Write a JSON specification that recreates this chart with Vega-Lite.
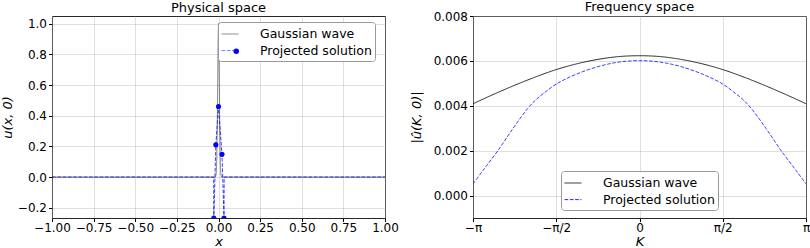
{
  "$schema": "https://vega.github.io/schema/vega-lite/v6.json",
  "padding": {"top": 0, "left": 0, "right": 0, "bottom": 0},
  "background": "white",
  "spacing": 10,
  "config": {
    "font": "DejaVu Sans",
    "view": {"stroke": "#262626", "strokeWidth": 1},
    "axis": {
      "labelFontSize": 12, "labelColor": "#000", "titleFontSize": 13, "titleFontWeight": "normal",
      "titleColor": "#000", "titleFontStyle": "italic", "tickColor": "#000", "tickSize": 3.5,
      "labelPadding": 2, "domain": false, "grid": true, "gridColor": "#b0b0b0", "gridOpacity": 0.5,
      "gridWidth": 0.8, "labelFlush": false, "labelOverlap": false
    },
    "axisX": {"labelPadding": 0.5, "titlePadding": 2.5},
    "title": {"fontSize": 13, "fontWeight": "normal", "baseline": "bottom", "frame": "group", "color": "#000"},
    "legend": {
      "labelFontSize": 12.5, "labelColor": "#000", "symbolSize": 289, "labelOffset": 21,
      "rowPadding": 0.6, "padding": 3, "fillColor": "white", "strokeColor": "#999999",
      "cornerRadius": 3, "symbolStrokeWidth": 1, "title": null
    }
  },
  "datasets": {
    "phys_gauss": [
      {"x": -1, "y": 0, "series": "Gaussian wave"},
      {"x": -0.018, "y": 0, "series": "Gaussian wave"},
      {"x": -0.014, "y": 0.02, "series": "Gaussian wave"},
      {"x": -0.011, "y": 0.09, "series": "Gaussian wave"},
      {"x": -0.008, "y": 0.28, "series": "Gaussian wave"},
      {"x": -0.005, "y": 0.6, "series": "Gaussian wave"},
      {"x": -0.0025, "y": 0.88, "series": "Gaussian wave"},
      {"x": 0, "y": 1, "series": "Gaussian wave"},
      {"x": 0.0025, "y": 0.88, "series": "Gaussian wave"},
      {"x": 0.005, "y": 0.6, "series": "Gaussian wave"},
      {"x": 0.008, "y": 0.28, "series": "Gaussian wave"},
      {"x": 0.011, "y": 0.09, "series": "Gaussian wave"},
      {"x": 0.014, "y": 0.02, "series": "Gaussian wave"},
      {"x": 0.018, "y": 0, "series": "Gaussian wave"},
      {"x": 1, "y": 0, "series": "Gaussian wave"}
    ],
    "phys_proj": [
      {"x": -1, "y": 0, "series": "Projected solution"},
      {"x": -0.029, "y": 0, "series": "Projected solution"},
      {"x": -0.028, "y": -0.267, "series": "Projected solution"},
      {"x": -0.016, "y": 0.21, "series": "Projected solution"},
      {"x": 0.0, "y": 0.46, "series": "Projected solution"},
      {"x": 0.021, "y": 0.148, "series": "Projected solution"},
      {"x": 0.033, "y": -0.267, "series": "Projected solution"},
      {"x": 0.034, "y": 0, "series": "Projected solution"},
      {"x": 1, "y": 0, "series": "Projected solution"}
    ],
    "phys_nodes": [
      {"x": -0.028, "y": -0.267, "series": "Projected solution"},
      {"x": -0.016, "y": 0.21, "series": "Projected solution"},
      {"x": 0.0, "y": 0.46, "series": "Projected solution"},
      {"x": 0.021, "y": 0.148, "series": "Projected solution"},
      {"x": 0.033, "y": -0.267, "series": "Projected solution"}
    ],
    "freq_gauss": [
      {"k": -3.14159265, "u": 0.00409, "series": "Gaussian wave"},
      {"k": -2.8, "u": 0.00446, "series": "Gaussian wave"},
      {"k": -2.4, "u": 0.00487, "series": "Gaussian wave"},
      {"k": -2.0, "u": 0.00525, "series": "Gaussian wave"},
      {"k": -1.6, "u": 0.00559, "series": "Gaussian wave"},
      {"k": -1.2, "u": 0.00586, "series": "Gaussian wave"},
      {"k": -0.8, "u": 0.00606, "series": "Gaussian wave"},
      {"k": -0.4, "u": 0.00619, "series": "Gaussian wave"},
      {"k": 0, "u": 0.00623, "series": "Gaussian wave"},
      {"k": 0.4, "u": 0.00619, "series": "Gaussian wave"},
      {"k": 0.8, "u": 0.00606, "series": "Gaussian wave"},
      {"k": 1.2, "u": 0.00586, "series": "Gaussian wave"},
      {"k": 1.6, "u": 0.00559, "series": "Gaussian wave"},
      {"k": 2.0, "u": 0.00525, "series": "Gaussian wave"},
      {"k": 2.4, "u": 0.00487, "series": "Gaussian wave"},
      {"k": 2.8, "u": 0.00446, "series": "Gaussian wave"},
      {"k": 3.14159265, "u": 0.00409, "series": "Gaussian wave"}
    ],
    "freq_proj": [
      {"k": -3.14159265, "u": 0.00052, "series": "Projected solution"},
      {"k": -2.95, "u": 0.00113, "series": "Projected solution"},
      {"k": -2.67, "u": 0.00201, "series": "Projected solution"},
      {"k": -2.39, "u": 0.00298, "series": "Projected solution"},
      {"k": -2.11, "u": 0.00388, "series": "Projected solution"},
      {"k": -1.95, "u": 0.00428, "series": "Projected solution"},
      {"k": -1.8, "u": 0.00457, "series": "Projected solution"},
      {"k": -1.57, "u": 0.00497, "series": "Projected solution"},
      {"k": -1.2, "u": 0.0054, "series": "Projected solution"},
      {"k": -0.76, "u": 0.00576, "series": "Projected solution"},
      {"k": -0.38, "u": 0.00595, "series": "Projected solution"},
      {"k": 0, "u": 0.00601, "series": "Projected solution"},
      {"k": 0.38, "u": 0.00595, "series": "Projected solution"},
      {"k": 0.76, "u": 0.00576, "series": "Projected solution"},
      {"k": 1.2, "u": 0.0054, "series": "Projected solution"},
      {"k": 1.57, "u": 0.00497, "series": "Projected solution"},
      {"k": 1.8, "u": 0.00457, "series": "Projected solution"},
      {"k": 1.95, "u": 0.00428, "series": "Projected solution"},
      {"k": 2.11, "u": 0.00388, "series": "Projected solution"},
      {"k": 2.39, "u": 0.00298, "series": "Projected solution"},
      {"k": 2.67, "u": 0.00201, "series": "Projected solution"},
      {"k": 2.95, "u": 0.00113, "series": "Projected solution"},
      {"k": 3.14159265, "u": 0.00052, "series": "Projected solution"}
    ]
  },
  "resolve": {"scale": {"color": "independent", "strokeDash": "independent"}},
  "hconcat": [
    {
      "width": 333,
      "height": 202,
      "title": {"text": "Physical space", "offset": 1},
      "encoding": {
        "x": {"field": "x", "type": "quantitative",
          "scale": {"domain": [-1, 1], "nice": false, "zero": false},
          "axis": {"values": [-1, -0.75, -0.5, -0.25, 0, 0.25, 0.5, 0.75, 1], "format": ".2f", "title": "x"}},
        "y": {"field": "y", "type": "quantitative",
          "scale": {"domain": [-0.267, 1.05], "nice": false, "zero": false},
          "axis": {"values": [-0.2, 0, 0.2, 0.4, 0.6, 0.8, 1], "format": ".1f", "title": "u(x, 0)", "titlePadding": 3}}
      },
      "layer": [
        {
          "data": {"name": "phys_gauss"},
          "mark": {"type": "line", "strokeWidth": 1, "opacity": 0.5, "clip": true},
          "encoding": {
            "color": {"field": "series", "type": "nominal",
              "scale": {"domain": ["Gaussian wave", "Projected solution"], "range": ["#000000", "#0000ff"]},
              "legend": {
                "orient": "none", "legendX": 166, "legendY": 6,
                "encode": {"symbols": {"update": {
                  "shape": {"signal": "'M0.06,0L2.53,0'"},
                  "strokeDash": {"signal": "datum.value === 'Projected solution' ? [3.7, 1.6] : [1, 0]"},
                  "opacity": {"signal": "datum.value === 'Projected solution' ? 0.8 : 0.5"},
                  "strokeWidth": {"value": 1}
                }}}
              }},
            "strokeDash": {"field": "series", "type": "nominal",
              "scale": {"domain": ["Gaussian wave", "Projected solution"], "range": [[1, 0], [3.7, 1.6]]},
              "legend": null}
          }
        },
        {
          "data": {"name": "phys_proj"},
          "mark": {"type": "line", "strokeWidth": 1, "opacity": 0.75, "clip": true},
          "encoding": {
            "color": {"field": "series", "type": "nominal"},
            "strokeDash": {"field": "series", "type": "nominal"}
          }
        },
        {
          "data": {"name": "phys_nodes"},
          "mark": {"type": "point", "filled": true, "size": 26, "opacity": 1, "clip": true},
          "encoding": {
            "color": {"value": "#0000ff"},
            "shape": {"field": "series", "type": "nominal",
              "scale": {"domain": ["Projected solution"], "range": ["circle"]},
              "legend": {
                "orient": "none", "legendX": 178, "legendY": 29,
                "fillColor": "transparent", "strokeColor": "transparent", "padding": 0,
                "labelExpr": "''", "symbolSize": 30, "labelOffset": 0,
                "encode": {"symbols": {"update": {
                  "fill": {"value": "#0000ff"},
                  "fillOpacity": {"value": 1},
                  "stroke": {"value": "#0000ff"},
                  "strokeWidth": {"value": 0},
                  "opacity": {"value": 1}
                }}}
              }}
          }
        }
      ]
    },
    {
      "width": 333,
      "height": 202,
      "title": {"text": "Frequency space", "offset": -4},
      "encoding": {
        "x": {"field": "k", "type": "quantitative",
          "scale": {"domain": [-3.14159265, 3.14159265], "nice": false, "zero": false},
          "axis": {"values": [-3.14159265, -1.5707963, 0, 1.5707963, 3.14159265],
            "labelExpr": "datum.value < -3 ? '−π' : datum.value < -1 ? '−π/2' : datum.value > 3 ? 'π' : datum.value > 1 ? 'π/2' : '0'",
            "title": "K"}},
        "y": {"field": "u", "type": "quantitative",
          "scale": {"domain": [-0.001, 0.008], "nice": false, "zero": false},
          "axis": {"values": [0, 0.002, 0.004, 0.006, 0.008], "format": ".3f", "title": "|û(K, 0)|", "titlePadding": 10}}
      },
      "layer": [
        {
          "data": {"name": "freq_gauss"},
          "mark": {"type": "line", "strokeWidth": 1, "opacity": 0.85, "interpolate": "catmull-rom", "clip": true},
          "encoding": {
            "color": {"field": "series", "type": "nominal",
              "scale": {"domain": ["Gaussian wave", "Projected solution"], "range": ["#000000", "#0000ff"]},
              "legend": {
                "orient": "none", "legendX": 88, "legendY": 155,
                "encode": {"symbols": {"update": {
                  "shape": {"signal": "'M0.06,0L2.53,0'"},
                  "strokeDash": {"signal": "datum.value === 'Projected solution' ? [3.7, 1.6] : [1, 0]"},
                  "opacity": {"signal": "datum.value === 'Projected solution' ? 0.8 : 0.85"},
                  "strokeWidth": {"value": 1}
                }}}
              }},
            "strokeDash": {"field": "series", "type": "nominal",
              "scale": {"domain": ["Gaussian wave", "Projected solution"], "range": [[1, 0], [3.7, 1.6]]},
              "legend": null}
          }
        },
        {
          "data": {"name": "freq_proj"},
          "mark": {"type": "line", "strokeWidth": 1, "opacity": 0.75, "interpolate": "catmull-rom", "clip": true},
          "encoding": {
            "color": {"field": "series", "type": "nominal"},
            "strokeDash": {"field": "series", "type": "nominal"}
          }
        }
      ]
    }
  ]
}
